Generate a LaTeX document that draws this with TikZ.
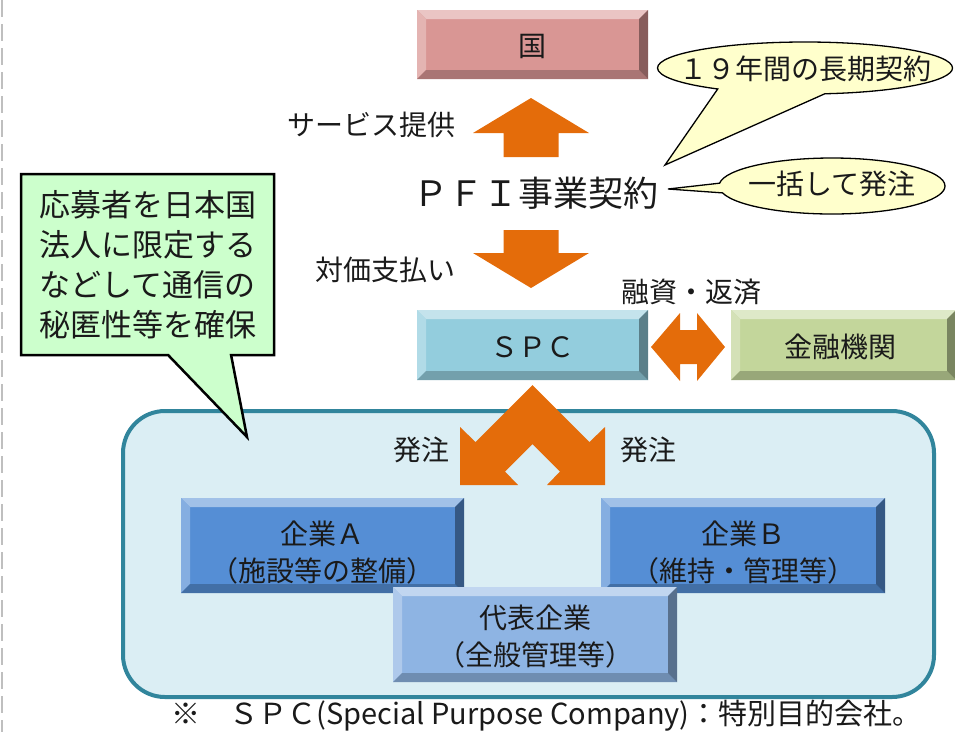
\documentclass[tikz,border=0pt]{standalone}
\usepackage{fontspec}
\setmainfont{Noto Sans CJK JP}
\usetikzlibrary{shapes.callouts}
\definecolor{kuni}{HTML}{D99694}
\definecolor{spc}{HTML}{93CDDD}
\definecolor{bank}{HTML}{C3D69B}
\definecolor{corp}{HTML}{558ED5}
\definecolor{rep}{HTML}{8EB4E3}
\definecolor{orng}{HTML}{E46C0A}
\definecolor{pale}{HTML}{FFFFCC}
\definecolor{mint}{HTML}{CCFFCC}
\definecolor{panel}{HTML}{DBEEF4}
\definecolor{panelline}{HTML}{31859C}
\definecolor{ink}{HTML}{1A1A1A}
\tikzset{
  bevelbox/.style={fill=#1, inner sep=0pt, align=center, text=ink,
    font=\fontsize{28}{37}\selectfont,
    path picture={
      \fill[#1!55!white] (path picture bounding box.north west) -- (path picture bounding box.north east)
        -- ([shift={(-9pt,-9pt)}]path picture bounding box.north east) -- ([shift={(9pt,-9pt)}]path picture bounding box.north west) -- cycle;
      \fill[#1!72!white] (path picture bounding box.north west) -- (path picture bounding box.south west)
        -- ([shift={(9pt,9pt)}]path picture bounding box.south west) -- ([shift={(9pt,-9pt)}]path picture bounding box.north west) -- cycle;
      \fill[#1!78!black] (path picture bounding box.south west) -- (path picture bounding box.south east)
        -- ([shift={(-9pt,9pt)}]path picture bounding box.south east) -- ([shift={(9pt,9pt)}]path picture bounding box.south west) -- cycle;
      \fill[#1!62!black] (path picture bounding box.north east) -- (path picture bounding box.south east)
        -- ([shift={(-9pt,9pt)}]path picture bounding box.south east) -- ([shift={(-9pt,-9pt)}]path picture bounding box.north east) -- cycle;
    }},
  lbl/.style={font=\fontsize{28}{34}\selectfont, text=ink, inner sep=0pt},
  boxtext/.style={font=\fontsize{28}{37}\selectfont, text=ink, inner sep=0pt, align=center},
  bubble/.style={ellipse callout, draw=black, line width=1.3pt, fill=pale, inner sep=0pt},
  blockarrow/.style={fill=orng},
}
\begin{document}
\begin{tikzpicture}[x=1pt,y=-1pt]
\useasboundingbox (0,0) rectangle (955,732);
% left dashed rule
\draw[black!25, line width=2pt, dash pattern=on 17pt off 7pt] (2,0) -- (2,732);

% top boxes
\node[bevelbox=kuni, minimum width=231pt, minimum height=69pt] (kuni) at (532.5,44.5) {};
\node[boxtext] (kunit) at ([yshift=-2pt]kuni.center) {国};
\node[lbl] (svc) at (371,125) {サービス提供};
\fill[blockarrow] (531,98) -- (589,133) -- (558.5,133) -- (558.5,157) -- (503.5,157) -- (503.5,133) -- (473,133) -- cycle;

\node[font=\fontsize{35}{40}\selectfont, text=ink, inner sep=0pt] (pfi) at (536,193) {ＰＦＩ事業契約};

\fill[blockarrow] (503.5,230) -- (558.5,230) -- (558.5,253) -- (589,253) -- (531,288) -- (473,253) -- (503.5,253) -- cycle;
\node[lbl] (pay) at (385,270) {対価支払い};

% callouts
\node[bubble, minimum width=295pt, minimum height=52pt, callout absolute pointer={(665,165)}, callout pointer arc=44] (c1) at (805,68) {};
\node[lbl] (c1t) at ([yshift=-1pt]c1.center) {１９年間の長期契約};
\node[bubble, minimum width=226pt, minimum height=56pt, callout absolute pointer={(668,189)}, callout pointer arc=20] (c2) at (832,186) {};
\node[lbl] (c2t) at ([yshift=2pt]c2.center) {一括して発注};

% SPC row
\node[lbl] (fin) at (691,292) {融資・返済};
\node[bevelbox=spc, minimum width=231pt, minimum height=70pt] (spc) at (532.5,345) {};
\node[boxtext] (spct) at ([yshift=-2pt]spc.center) {ＳＰＣ};
\node[bevelbox=bank, minimum width=225pt, minimum height=70pt] (bank) at (843.5,345) {};
\node[boxtext] (bankt) at ([shift={(-3pt,-2pt)}]bank.center) {金融機関};
\fill[blockarrow] (651,347) -- (680,313) -- (680,330) -- (697,330) -- (697,313) -- (725,347)
  -- (697,381) -- (697,364) -- (680,364) -- (680,381) -- cycle;

% panel
\node[draw=panelline, fill=panel, line width=4pt, rounded corners=42pt, minimum width=811pt, minimum height=286pt, inner sep=0pt] (panel) at (528.5,554) {};

% chevron arrow
\fill[blockarrow] (532.5,385) -- (589.5,442) -- (605,427) -- (605,485) -- (547,485) -- (560,471.5)
  -- (532.5,444) -- (505,471.5) -- (518,485) -- (460,485) -- (460,427) -- (475.5,442) -- cycle;
\node[lbl] (ordl) at (421,450) {発注};
\node[lbl] (ordr) at (648,450) {発注};

% companies
\node[bevelbox=corp, minimum width=283pt, minimum height=95pt] (ca) at (322.5,545.5) {};
\node[boxtext] (cat) at ([yshift=-7pt]ca.center) {企業Ａ\\（施設等の整備）};
\node[bevelbox=corp, minimum width=284pt, minimum height=95pt] (cb) at (743,545.5) {};
\node[boxtext] (cbt) at ([yshift=-7pt]cb.center) {企業Ｂ\\（維持・管理等）};
\node[bevelbox=rep, minimum width=284pt, minimum height=95pt] (rep) at (535,634.5) {};
\node[boxtext] (rept) at ([yshift=-2pt]rep.center) {代表企業\\（全般管理等）};

% green note
\node[rectangle callout, draw=black, line width=2.5pt, fill=mint, minimum width=253pt, minimum height=181pt,
  inner sep=0pt, callout absolute pointer={(247,437)}, callout pointer width=63pt, align=left,
  text=ink, font=\fontsize{31}{40}\selectfont] (note) at (147.5,264.5) {応募者を日本国\\法人に限定する\\などして通信の\\秘匿性等を確保};

% footnote
\node[font=\fontsize{29}{32}\selectfont, text=ink, inner sep=0pt] (foot) at (546.5,716) {※　ＳＰＣ(Special Purpose Company)：特別目的会社。};
\end{tikzpicture}
\end{document}
